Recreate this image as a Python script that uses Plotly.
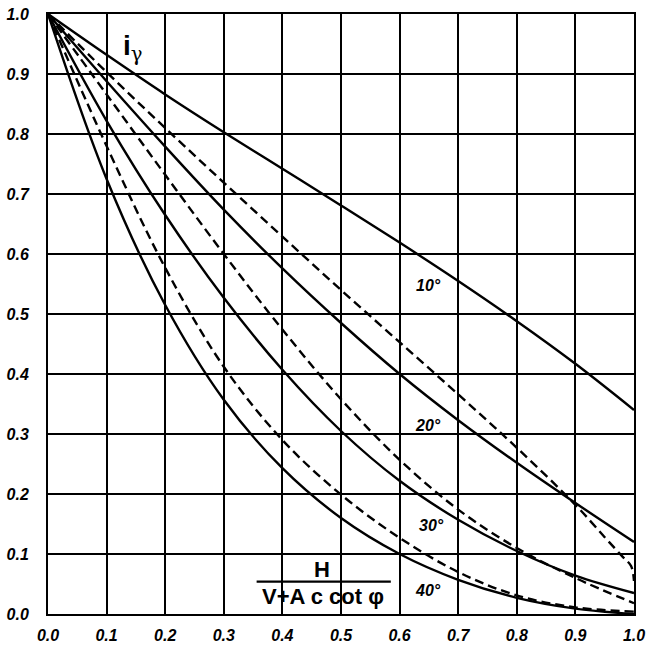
import plotly.graph_objects as go

# ---- data ----
x_pts = [0.0, 0.1, 0.2, 0.3, 0.4, 0.5, 0.6, 0.7, 0.8, 0.9, 1.0]

solid_10 = [1.0, 0.932, 0.866, 0.803, 0.742, 0.681, 0.619, 0.555, 0.488, 0.417, 0.340]
solid_20 = [1.0, 0.888, 0.779, 0.674, 0.576, 0.485, 0.400, 0.323, 0.252, 0.185, 0.120]
solid_30 = [1.0, 0.822, 0.665, 0.527, 0.407, 0.305, 0.222, 0.157, 0.105, 0.064, 0.035]
solid_40 = [1.0, 0.725, 0.515, 0.357, 0.243, 0.160, 0.100, 0.057, 0.027, 0.009, 0.000]

dashA_x = [0.0, 0.1, 0.2, 0.3, 0.4, 0.5, 0.6, 0.7, 0.8, 0.9, 0.95, 0.98, 0.995, 1.0]
dashA_y = [1.0, 0.903, 0.810, 0.719, 0.629, 0.540, 0.453, 0.366, 0.277, 0.182, 0.128, 0.096, 0.080, 0.055]
dashC_y = [1.0, 0.866, 0.732, 0.600, 0.474, 0.358, 0.257, 0.174, 0.110, 0.060, 0.018]
dashE_y = [1.0, 0.780, 0.577, 0.412, 0.290, 0.199, 0.127, 0.070, 0.031, 0.011, 0.004]

tick_vals = [0.0, 0.1, 0.2, 0.3, 0.4, 0.5, 0.6, 0.7, 0.8, 0.9, 1.0]
tick_text = ["0.0", "0.1", "0.2", "0.3", "0.4", "0.5", "0.6", "0.7", "0.8", "0.9", "1.0"]

curve_labels = ["10°", "20°", "30°", "40°"]
label_x = [0.650, 0.648, 0.654, 0.648]
label_y = [0.547, 0.315, 0.148, 0.040]

# ---- figure ----
fig = go.Figure()

solid_style = dict(color="black", width=2.4, shape="spline", smoothing=1.0)
dash_style = dict(color="black", width=2.4, shape="spline", smoothing=1.0, dash="9px,5px")

for ys in [solid_10, solid_20, solid_30, solid_40]:
    fig.add_trace(go.Scatter(x=x_pts, y=ys, mode="lines", line=solid_style,
                             showlegend=False, hoverinfo="skip"))
fig.add_trace(go.Scatter(x=dashA_x, y=dashA_y, mode="lines", line=dash_style,
                         showlegend=False, hoverinfo="skip"))
for ys in [dashC_y, dashE_y]:
    fig.add_trace(go.Scatter(x=x_pts, y=ys, mode="lines", line=dash_style,
                             showlegend=False, hoverinfo="skip"))

tick_font = dict(family="Liberation Sans, Arial, sans-serif", size=16, color="black",
                 weight="bold", style="italic")

axis_common = dict(
    range=[0, 1], tickvals=tick_vals, ticktext=tick_text,
    showgrid=True, gridcolor="black", gridwidth=2,
    showline=True, linecolor="black", linewidth=2, mirror=True,
    zeroline=False, ticks="", tickfont=tick_font, fixedrange=True,
    automargin=False,
)

fig.update_xaxes(**axis_common, ticklabelstandoff=6)
fig.update_yaxes(**axis_common, ticklabelstandoff=14)

# white box behind the abscissa label
fig.add_shape(type="rect", xref="x", yref="y", x0=0.336, x1=0.592, y0=0.003, y1=0.097,
              fillcolor="white", line=dict(width=0), layer="below")
# fraction bar
fig.add_shape(type="line", xref="x", yref="y", x0=0.356, x1=0.585, y0=0.054, y1=0.054,
              line=dict(color="black", width=2.2), layer="above")

label_font = dict(family="Liberation Sans, Arial, sans-serif", size=22, color="black",
                  weight="bold")
annotations = []
annotations.append(dict(x=0.468, y=0.075, xref="x", yref="y", text="H", showarrow=False,
                        font=label_font))
annotations.append(dict(x=0.470, y=0.030, xref="x", yref="y", text="V+A c cot φ",
                        showarrow=False, font=label_font))
annotations.append(dict(x=0.145, y=0.943, xref="x", yref="y",
                        text="<b>i</b><sub><span style='font-family:DejaVu Serif'>γ</span></sub>",
                        showarrow=False,
                        font=dict(family="Liberation Sans, Arial, sans-serif", size=28,
                                  color="black")))
for t, lx, ly in zip(curve_labels, label_x, label_y):
    annotations.append(dict(x=lx, y=ly, xref="x", yref="y", text=t, showarrow=False,
                            font=tick_font))

fig.update_layout(
    width=650, height=645,
    margin=dict(l=48, r=16, t=14, b=31),
    paper_bgcolor="white", plot_bgcolor="white",
    annotations=annotations,
)

fig.write_html("out.html")
